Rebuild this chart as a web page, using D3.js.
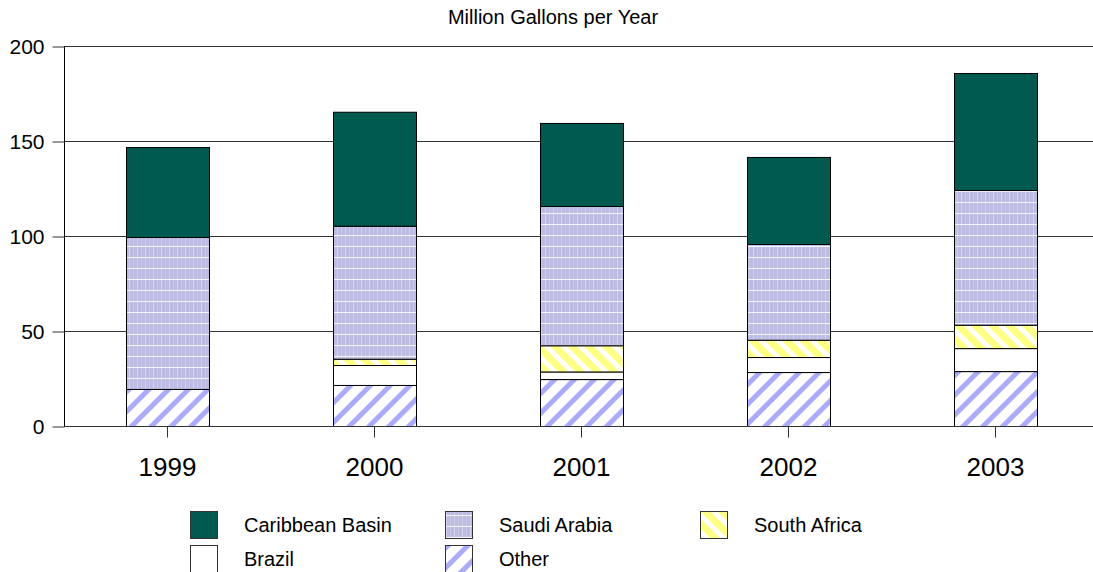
<!DOCTYPE html>
<html lang="en">
<head>
  <meta charset="UTF-8">
  <script src="https://d3js.org/d3.v7.min.js"></script>
  <title>Million Gallons per Year</title>
  <style>
    body { margin: 0; background: white; font-family: "Liberation Sans", Arial, sans-serif; }
    svg text { fill: black; }
  </style>
</head>
<body>
<div id="chart"></div>
<script>
  // data
  var years = ["1999", "2000", "2001", "2002", "2003"];
  var seriesNames = ["Other", "Brazil", "South Africa", "Saudi Arabia", "Caribbean Basin"];
  var other = [19.5, 21.6, 24.7, 28.4, 28.9];
  var brazil = [0, 10.5, 4.0, 7.9, 12.1];
  var southAfrica = [0, 3.3, 13.8, 9.1, 12.3];
  var saudiArabia = [80.0, 70.0, 73.3, 50.4, 70.9];
  var caribbean = [47.3, 60.0, 43.7, 45.8, 61.6];
  var yTicks = [0, 50, 100, 150, 200];

  var W = 1093, H = 572;
  var margin = { top: 46, left: 64, bottom: 146 };
  var plotH = H - margin.top - margin.bottom;

  var svg = d3.select("#chart").append("svg")
    .attr("width", W).attr("height", H);

  // patterns
  var defs = svg.append("defs");

  var pOther = defs.append("pattern").attr("id", "p-other")
    .attr("patternUnits", "userSpaceOnUse").attr("width", 14).attr("height", 14)
    .attr("patternTransform", "rotate(45)");
  pOther.append("rect").attr("width", 14).attr("height", 14).attr("fill", "white");
  pOther.append("rect").attr("width", 5).attr("height", 14).attr("fill", "#aaaaff");

  var pSA = defs.append("pattern").attr("id", "p-sa")
    .attr("patternUnits", "userSpaceOnUse").attr("width", 12).attr("height", 12)
    .attr("patternTransform", "rotate(-45)");
  pSA.append("rect").attr("width", 12).attr("height", 12).attr("fill", "white");
  pSA.append("rect").attr("width", 7).attr("height", 12).attr("fill", "#ffff80");

  var pSaudi = defs.append("pattern").attr("id", "p-saudi")
    .attr("patternUnits", "userSpaceOnUse").attr("width", 8).attr("height", 22);
  pSaudi.append("rect").attr("width", 8).attr("height", 22).attr("fill", "#bcbce2");
  pSaudi.append("rect").attr("x", 1).attr("width", 1).attr("height", 22).attr("fill", "#d4d4ee");
  pSaudi.append("rect").attr("x", 5).attr("width", 1).attr("height", 22).attr("fill", "#cacae9");
  pSaudi.append("rect").attr("y", 4).attr("width", 8).attr("height", 1).attr("fill", "#f4f4ff");
  pSaudi.append("rect").attr("y", 15).attr("width", 8).attr("height", 1).attr("fill", "#f4f4ff");

  var fills = {
    "Other": "url(#p-other)",
    "Brazil": "white",
    "South Africa": "url(#p-sa)",
    "Saudi Arabia": "url(#p-saudi)",
    "Caribbean Basin": "#005a4f"
  };

  var x = d3.scaleBand().domain(years).range([margin.left, margin.left + 207 * 5]).paddingInner(0.6).paddingOuter(0.3);
  var y = d3.scaleLinear().domain([0, 200]).range([margin.top + plotH, margin.top]);

  // gridlines
  svg.append("g").selectAll("line").data(yTicks.filter(d => d > 0)).enter().append("line")
    .attr("x1", margin.left).attr("x2", W)
    .attr("y1", d => y(d) + 0.5).attr("y2", d => y(d) + 0.5)
    .attr("stroke", "#333").attr("stroke-width", 1);

  // title
  svg.append("text").attr("x", 553).attr("y", 24).attr("text-anchor", "middle")
    .style("font-size", "20px").text("Million Gallons per Year");

  // stacked bars
  var rows = years.map((yr, i) => ({
    year: yr,
    "Other": other[i], "Brazil": brazil[i], "South Africa": southAfrica[i],
    "Saudi Arabia": saudiArabia[i], "Caribbean Basin": caribbean[i]
  }));
  var stacked = d3.stack().keys(seriesNames)(rows);

  svg.append("g").selectAll("g").data(stacked).enter().append("g")
    .attr("fill", d => fills[d.key])
    .selectAll("rect").data(d => d.filter(s => s[1] - s[0] > 0)).enter().append("rect")
    .attr("x", d => Math.round(x(d.data.year)) + 0.5)
    .attr("width", Math.round(x.bandwidth()))
    .attr("y", d => y(d[1]) + 0.5)
    .attr("height", d => y(d[0]) - y(d[1]))
    .attr("stroke", "black").attr("stroke-width", 1);

  // y axis
  var yAxis = svg.append("g").attr("transform", "translate(" + (margin.left + 0.5) + ",0.5)")
    .call(d3.axisLeft(y).tickValues(yTicks).tickSize(12).tickPadding(8));
  yAxis.select(".domain").attr("stroke", "black").attr("d", "M0," + y(200) + "V" + y(0));
  yAxis.selectAll(".tick line").attr("stroke", "#333");
  yAxis.selectAll("text").style("font-size", "21px").attr("font-family", "Liberation Sans, Arial, sans-serif").attr("dy", "0.35em");

  // x axis
  var xAxis = svg.append("g").attr("transform", "translate(0," + (y(0) + 0.5) + ")")
    .call(d3.axisBottom(x).tickSize(11).tickPadding(20));
  xAxis.select(".domain").attr("stroke", "#333").attr("d", "M" + margin.left + ",0H" + W);
  xAxis.selectAll(".tick line").attr("stroke", "#333");
  xAxis.selectAll("text").style("font-size", "26px").attr("font-family", "Liberation Sans, Arial, sans-serif");

  // legend
  var legendItems = [
    { name: "Caribbean Basin", col: 0, row: 0 },
    { name: "Saudi Arabia", col: 1, row: 0 },
    { name: "South Africa", col: 2, row: 0 },
    { name: "Brazil", col: 0, row: 1 },
    { name: "Other", col: 1, row: 1 }
  ];
  var legend = svg.append("g").selectAll("g").data(legendItems).enter().append("g")
    .attr("transform", d => "translate(" + (190 + d.col * 255) + "," + (511 + d.row * 34) + ")");
  legend.append("rect").attr("x", 0.5).attr("y", 0.5).attr("width", 27).attr("height", 27)
    .attr("fill", d => fills[d.name]).attr("stroke", "#333");
  legend.append("text").attr("x", 54).attr("y", 14).attr("dy", "0.35em")
    .style("font-size", "20px").text(d => d.name);
</script>
</body>
</html>
